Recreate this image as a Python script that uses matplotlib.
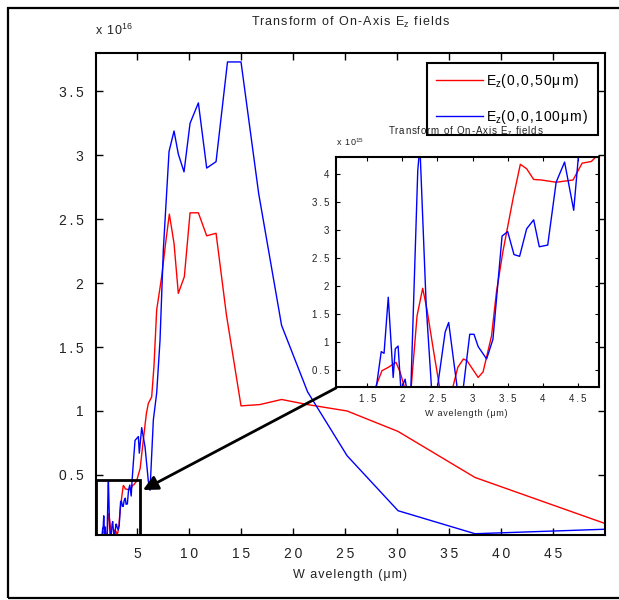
import matplotlib.pyplot as plt
from matplotlib.patches import Rectangle

# wavelength (um) and on-axis Ez transform (units of 1e16)
wl_50 = [1.06, 1.30, 1.50, 1.62, 1.71, 1.80, 1.91, 1.97, 2.03, 2.12, 2.21, 2.29,
         2.35, 2.44, 2.53, 2.62, 2.72, 2.79, 2.87, 2.92, 3.08, 3.15, 3.27, 3.34,
         3.43, 3.58, 3.68, 3.77, 3.87, 3.98, 4.19, 4.43, 4.56, 4.69, 4.78, 4.95,
         5.30, 5.60, 5.90, 6.09, 6.41, 6.63, 6.89, 7.37, 7.79, 8.11, 8.56, 8.97,
         9.55, 10.1, 10.9, 11.7, 12.6, 13.6, 15.0, 16.8, 18.9, 21.4, 25.2, 30.1,
         37.5, 50.0]
ez_50 = [0.005, 0.008, 0.010, 0.020, 0.049, 0.055, 0.064, 0.046, 0.020, 0.010,
         0.147, 0.196, 0.159, 0.088, 0.020, 0.010, 0.020, 0.055, 0.070, 0.067,
         0.037, 0.047, 0.111, 0.189, 0.260, 0.358, 0.417, 0.409, 0.390, 0.389,
         0.385, 0.389, 0.419, 0.422, 0.433, 0.45, 0.55, 0.77, 0.98, 1.06, 1.11,
         1.35, 1.79, 2.05, 2.34, 2.54, 2.31, 1.92, 2.05, 2.55, 2.55, 2.37, 2.39,
         1.75, 1.04, 1.05, 1.09, 1.05, 1.00, 0.84, 0.48, 0.12]

wl_100 = [1.06, 1.30, 1.50, 1.63, 1.70, 1.74, 1.80, 1.87, 1.90, 1.94, 1.98, 2.04,
          2.07, 2.12, 2.22, 2.25, 2.34, 2.42, 2.49, 2.61, 2.66, 2.79, 2.86, 2.96,
          3.02, 3.08, 3.20, 3.29, 3.36, 3.42, 3.50, 3.59, 3.67, 3.77, 3.87, 3.95,
          4.07, 4.19, 4.31, 4.44, 4.52, 4.65, 4.81, 5.13, 5.22, 5.45, 5.77, 6.09,
          6.25, 6.57, 6.89, 7.21, 7.53, 8.08, 8.56, 8.97, 9.52, 10.1, 10.9, 11.7,
          12.6, 13.7, 15.0, 16.7, 18.9, 21.4, 25.2, 30.1, 37.5, 50.0]
ez_100 = [0.005, 0.010, 0.005, 0.020, 0.083, 0.080, 0.180, 0.037, 0.088, 0.093,
          0.015, 0.034, 0.010, 0.010, 0.406, 0.450, 0.165, 0.010, 0.010, 0.118,
          0.135, 0.010, 0.010, 0.114, 0.114, 0.092, 0.070, 0.105, 0.204, 0.289,
          0.297, 0.256, 0.253, 0.302, 0.318, 0.270, 0.273, 0.385, 0.421, 0.335,
          0.450, 0.60, 0.77, 0.80, 0.67, 0.87, 0.72, 0.45, 0.38, 0.93, 1.14, 1.55,
          2.26, 3.03, 3.19, 3.01, 2.87, 3.25, 3.41, 2.90, 2.95, 3.73, 3.73, 2.70,
          1.67, 1.15, 0.65, 0.22, 0.04, 0.075]

main_xticks = [5, 10, 15, 20, 25, 30, 35, 40, 45]
main_yticks = [0.5, 1, 1.5, 2, 2.5, 3, 3.5]
inset_xticks = [1.5, 2, 2.5, 3, 3.5, 4, 4.5]
inset_yticks = [0.5, 1, 1.5, 2, 2.5, 3, 3.5, 4]

plt.rcParams['font.family'] = ['Liberation Sans Narrow', 'Liberation Sans', 'DejaVu Sans']
plt.rcParams['mathtext.default'] = 'regular'

TS = '\u2009'   # thin space for tick labels
HS = '\u200a'   # hair space for titles and labels


def sp(s, gap=TS):
    return gap.join(s)


def fmt(v):
    return sp(f"{v:g}")


title_txt = sp("Transform of On-Axis ", HS) + HS + "E$_z$" + HS + sp(" fields", HS)
xlab_txt = sp("W avelength (μm)", HS)

txt = '#222222'
fig = plt.figure(figsize=(6.19, 6.0), dpi=100)

# outer frame
fig.add_artist(Rectangle((8 / 619, 2 / 600), 1.2, 590 / 600, transform=fig.transFigure,
                         fill=False, lw=1.6, ec='k', clip_on=False))

ax = fig.add_axes([96 / 619, 65 / 600, 509 / 619, 482 / 600])
ax.plot(wl_50, ez_50, color='red', lw=1.0, label="E$_z$" + sp("(0,0,50μm)", HS))
ax.plot(wl_100, ez_100, color='blue', lw=1.0, label="E$_z$" + sp("(0,0,100μm)", HS))
ax.set_xlim(1.056, 50)
ax.set_ylim(0.03, 3.8)
ax.set_xticks(main_xticks)
ax.set_xticklabels([fmt(v) for v in main_xticks])
ax.set_yticks(main_yticks)
ax.set_yticklabels([fmt(v) for v in main_yticks])
ax.tick_params(direction='in', top=True, right=True, length=5, width=1,
               labelsize=10, pad=9, labelcolor=txt)
for s in ax.spines.values():
    s.set_linewidth(1.5)

leg = ax.legend(loc='upper right', bbox_to_anchor=(0.986, 0.979), borderaxespad=0,
                fancybox=False, edgecolor='k', framealpha=1, fontsize=10,
                handlelength=3.4, handletextpad=0.25, labelspacing=1.3, borderpad=0.65)
leg.get_frame().set_linewidth(1.5)

# zoom box
ax.add_patch(Rectangle((1.056, 0.03), 5.3 - 1.056, 0.46 - 0.03, fill=False,
                       lw=2, ec='k', zorder=5))

fig.text(350 / 619, 1 - 22 / 600, title_txt, ha='center', va='center',
         fontsize=9, color=txt)
fig.text(95 / 619, 1 - 30 / 600, sp("x 10", HS) + "$^{16}$", ha='left', va='center',
         fontsize=9, color=txt)
fig.text(350 / 619, 1 - 575 / 600, xlab_txt, ha='center', va='center',
         fontsize=9, color=txt)

# inset
ins = fig.add_axes([336 / 619, 213 / 600, 263 / 619, 230 / 600])
ins.plot(wl_50, [v * 10 for v in ez_50], color='red', lw=1.0)
ins.plot(wl_100, [v * 10 for v in ez_100], color='blue', lw=1.0)
ins.set_xlim(1.056, 4.8)
ins.set_ylim(0.2, 4.3)
ins.set_xticks(inset_xticks)
ins.set_xticklabels([fmt(v) for v in inset_xticks])
ins.set_yticks(inset_yticks)
ins.set_yticklabels([fmt(v) for v in inset_yticks])
ins.tick_params(direction='in', top=True, right=True, length=3, width=0.8,
                labelsize=7, pad=5, labelcolor=txt)
for s in ins.spines.values():
    s.set_linewidth(1.5)

fig.text(466 / 619, 1 - 131 / 600, title_txt, ha='center', va='center',
         fontsize=7, color=txt)
fig.text(336 / 619, 1 - 142 / 600, sp("x 10", HS) + "$^{15}$", ha='left', va='center',
         fontsize=6.5, color=txt)
fig.text(466 / 619, 1 - 413 / 600, xlab_txt, ha='center', va='center',
         fontsize=6.5, color=txt)

# arrow from inset corner to zoom box
ax.annotate("", xy=(143 / 619, 1 - 490 / 600), xycoords='figure fraction',
            xytext=(336 / 619, 1 - 388 / 600), textcoords='figure fraction',
            arrowprops=dict(arrowstyle='-|>', lw=2, color='k', mutation_scale=22,
                            shrinkA=0, shrinkB=0))

fig.savefig("out.png", dpi=100)
